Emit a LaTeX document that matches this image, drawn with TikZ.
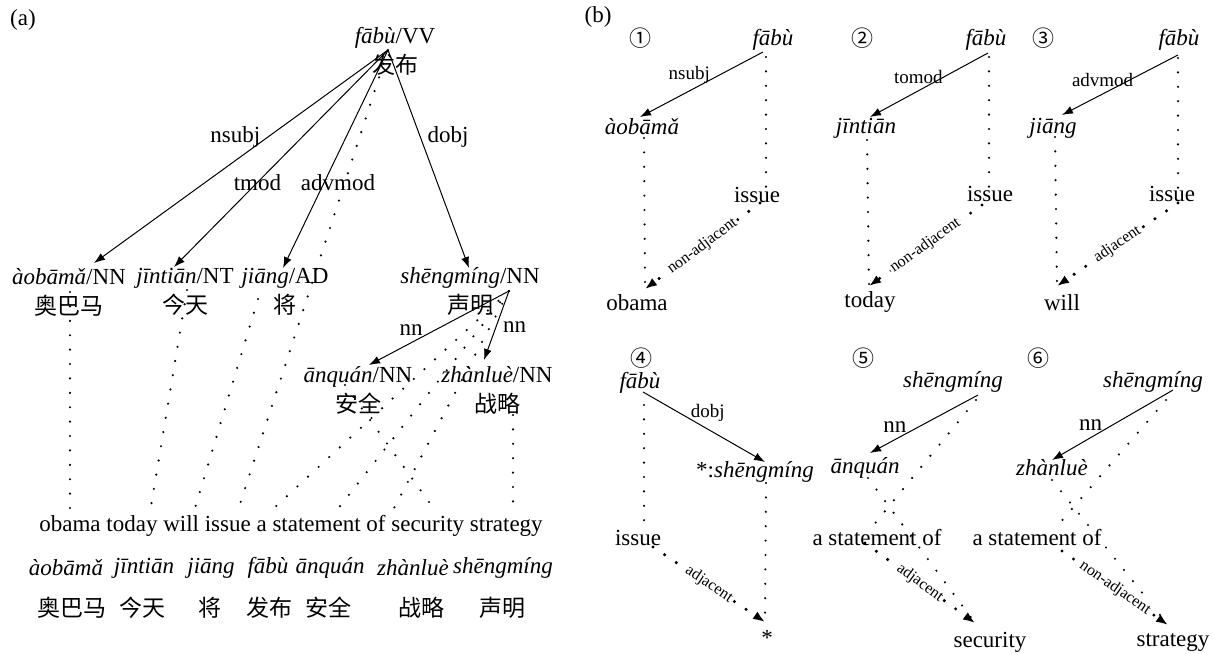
\documentclass[tikz,border=0pt]{standalone}
\usepackage{fontspec}
\setmainfont{Liberation Serif}
\newfontfamily\cjk{Noto Sans CJK SC}
\usetikzlibrary{arrows.meta}

\tikzset{
  dep/.style={line width=0.5pt, -{Latex[length=5.5pt,width=4pt]}},
  link/.style={line width=1.2pt, line cap=round, dash pattern=on 0pt off 7.2pt},
  linkarrow/.style={line width=1.7pt, line cap=round, dash pattern=on 0pt off 7pt,
    -{Latex[length=6pt,width=4.5pt]}},
  word/.style={align=center, inner sep=0pt},
  py/.style={font=\fontsize{11.5}{15}\selectfont\itshape},
  lab/.style={font=\fontsize{9.5}{11}\selectfont},
  tiny lab/.style={midway, sloped, fill=white, inner sep=0.8pt, font=\fontsize{8}{9}\selectfont},
  num/.style={font=\cjk\fontsize{11}{12}\selectfont}
}

\begin{document}
\begin{tikzpicture}[x=0.5pt, y=-0.5pt, font=\fontsize{11.5}{15}\selectfont]
    \useasboundingbox (0,0) rectangle (1214,653);

    % ---------- (a) the whole tree ----------
    \node (tagA) at (23,20) {(a)};
    \node[word] (fabuV) at (395,51) {{\itshape fābù}/VV\\{\cjk 发布}};
    \node[word] (aobamaN) at (69,292) {{\itshape àobāmǎ}/NN\\{\cjk 奥巴马}};
    \node[word] (jintianN) at (185,292) {{\itshape jīntiān}/NT\\{\cjk 今天}};
    \node[word] (jiangN) at (285,292) {{\itshape jiāng}/AD\\{\cjk 将}};
    \node[word] (shengN) at (470,292) {{\itshape shēngmíng}/NN\\{\cjk 声明}};
    \node[word] (anquanN) at (358,390) {{\itshape ānquán}/NN\\{\cjk 安全}};
    \node[word] (zhanlueN) at (497,390) {{\itshape zhànluè}/NN\\{\cjk 战略}};

    % arrow ends
    \coordinate (fabuV-r) at (388,50);
    \coordinate (aobamaN-t) at (94,263);
    \coordinate (jintianN-t) at (174,267);
    \coordinate (jiangN-t) at (283,268);
    \coordinate (shengN-t) at (469,268);
    \coordinate (shengN-r) at (509,291);
    \coordinate (anquanN-t) at (369,365);
    \coordinate (zhanlueN-t) at (484,360);

    % Draw the dependencies
    \draw[dep] (fabuV-r) -- (aobamaN-t) node[pos=0.41,left]{nsubj};
    \draw[dep] (fabuV-r) -- (jintianN-t) node[pos=0.61]{tmod};
    \draw[dep] (fabuV-r) -- (jiangN-t) node[pos=0.61,xshift=7pt]{advmod};
    \draw[dep] (fabuV-r) -- (shengN-t) node[pos=0.40,right]{dobj};
    \draw[dep] (shengN-r) -- (anquanN-t) node[pos=0.7,above]{nn};
    \draw[dep] (shengN-r) -- (zhanlueN-t) node[pos=0.52,right]{nn};

    % English sentence
    \node (sent) at (291,526) {obama today will issue a statement of security strategy};
    \coordinate (w-obama) at (70,509);
    \coordinate (w-today) at (151,506);
    \coordinate (w-will) at (195,508);
    \coordinate (w-issue) at (239,507);
    \coordinate (w-a) at (273,509);
    \coordinate (w-statement) at (337,510);
    \coordinate (w-of) at (393,510);
    \coordinate (w-security) at (434,509);
    \coordinate (w-strategy) at (513,509);
    \coordinate (aobamaN-b) at (70,292);
    \coordinate (jintianN-b) at (187,290);
    \coordinate (jiangN-b) at (258,299);
    \coordinate (anquanN-b) at (345,385);
    \coordinate (zhanlueN-b) at (513,415);

    % Draw the word alignment
    \draw[link] (aobamaN-b) -- (w-obama);
    \draw[link] (jintianN-b) -- (w-today);
    \draw[link] (jiangN-b) -- (w-will);
    \draw[link] (fabuV-r) -- (w-issue);
    \draw[link] (shengN-r) -- (w-a);
    \draw[link] (shengN-r) -- (w-statement);
    \draw[link] (shengN-r) -- (w-of);
    \draw[link] (anquanN-b) -- (w-security);
    \draw[link] (zhanlueN-b) -- (w-strategy);

    % pinyin and Chinese rows
    \node[py] (py1) at (66,568) {àobāmǎ};
    \node[py] (py2) at (144,568) {jīntiān};
    \node[py] (py3) at (211,568) {jiāng};
    \node[py] (py4) at (268,568) {fābù};
    \node[py] (py5) at (330,568) {ānquán};
    \node[py] (py6) at (413,568) {zhànluè};
    \node[py] (py7) at (503,568) {shēngmíng};
    \node (zh1) at (72,608) {\cjk 奥巴马};
    \node (zh2) at (142,608) {\cjk 今天};
    \node (zh3) at (210,608) {\cjk 将};
    \node (zh4) at (269,608) {\cjk 发布};
    \node (zh5) at (328,608) {\cjk 安全};
    \node (zh6) at (421,608) {\cjk 战略};
    \node (zh7) at (502,608) {\cjk 声明};

    % ---------- (b) the six cases ----------
    \node (tagB) at (598,17) {(b)};

    % case 1
    \node[num] (num1) at (640,38) {①};
    \node[py] (fabu1) at (773,40) {fābù};
    \node[py] (aobama1) at (642,127) {àobāmǎ};
    \node (issue1) at (757,195) {issue};
    \node (obama1) at (637,303) {obama};
    \coordinate (fabu1-r) at (763,52);
    \coordinate (aobama1-t) at (640,117);
    \coordinate (aobama1-b) at (644,138);
    \coordinate (obama1-t) at (645,289);
    \coordinate (fabu1-b) at (766,57);
    \coordinate (issue1-t) at (766,187);
    \coordinate (issue1-r) at (760,203);
    \draw[dep] (fabu1-r) -- (aobama1-t) node[lab,pos=0.6,above]{nsubj};
    \draw[link] (aobama1-b) -- (obama1-t);
    \draw[link] (fabu1-b) -- (issue1-t);
    \draw[linkarrow] (issue1-r) -- (obama1-t) node[tiny lab]{non-adjacent};

    % case 2
    \node[num] (num2) at (862,38) {②};
    \node[py] (fabu2) at (986,40) {fābù};
    \node[py] (jintian2) at (866,128) {jīntiān};
    \node (issue2) at (990,194) {issue};
    \node (today2) at (870,302) {today};
    \coordinate (fabu2-r) at (988,53);
    \coordinate (jintian2-t) at (870,117);
    \coordinate (jintian2-b) at (867,140);
    \coordinate (today2-t) at (869,286);
    \coordinate (fabu2-b) at (989,57);
    \coordinate (issue2-t) at (989,187);
    \coordinate (issue2-r) at (982,205);
    \draw[dep] (fabu2-r) -- (jintian2-t) node[lab,pos=0.59,above]{tomod};
    \draw[link] (jintian2-b) -- (today2-t);
    \draw[link] (fabu2-b) -- (issue2-t);
    \draw[linkarrow] (issue2-r) -- (today2-t) node[tiny lab]{non-adjacent};

    % case 3
    \node[num] (num3) at (1043,38) {③};
    \node[py] (fabu3) at (1179,40) {fābù};
    \node[py] (jiang3) at (1053,128) {jiāng};
    \node (issue3) at (1172,194) {issue};
    \node (will3) at (1062,303) {will};
    \coordinate (fabu3-r) at (1178,55);
    \coordinate (jiang3-t) at (1062,115);
    \coordinate (jiang3-b) at (1055,137);
    \coordinate (will3-t) at (1057,286);
    \coordinate (fabu3-b) at (1178,58);
    \coordinate (issue3-t) at (1178,190);
    \coordinate (issue3-r) at (1178,203);
    \draw[dep] (fabu3-r) -- (jiang3-t) node[lab,pos=0.65,above]{advmod};
    \draw[link] (jiang3-b) -- (will3-t);
    \draw[link] (fabu3-b) -- (issue3-t);
    \draw[linkarrow] (issue3-r) -- (will3-t) node[tiny lab]{adjacent};

    % case 4
    \node[num] (num4) at (641,358) {④};
    \node[py] (fabu4) at (640,383) {fābù};
    \node (sheng4) at (755,472) {*:{\itshape shēngmíng}};
    \node (issue4) at (638,538) {issue};
    \node (star4) at (767,638) {*};
    \coordinate (fabu4-r) at (643,392);
    \coordinate (sheng4-t) at (765,462);
    \coordinate (fabu4-b) at (644,405);
    \coordinate (issue4-t) at (644,523);
    \coordinate (sheng4-b) at (766,483);
    \coordinate (star4-t) at (765,622);
    \coordinate (issue4-r) at (653,547);
    \draw[dep] (fabu4-r) -- (sheng4-t) node[lab,pos=0.53,above]{dobj};
    \draw[link] (fabu4-b) -- (issue4-t);
    \draw[link] (sheng4-b) -- (star4-t);
    \draw[linkarrow] (issue4-r) -- (star4-t) node[tiny lab]{adjacent};

    % case 5
    \node[num] (num5) at (863,358) {⑤};
    \node[py] (sheng5) at (953,382) {shēngmíng};
    \node[py] (anquan5) at (865,468) {ānquán};
    \node (stmt5) at (877,538) {a statement of};
    \node (security5) at (990,642) {security};
    \coordinate (sheng5-r) at (978,395);
    \coordinate (anquan5-t) at (870,453);
    \coordinate (sheng5-b) at (976,400);
    \coordinate (anquan5-b) at (868,478);
    \coordinate (stmt5-t) at (872,527);
    \coordinate (stmt5-r) at (865,543);
    \coordinate (security5-t) at (975,623);
    \draw[dep] (sheng5-r) -- (anquan5-t) node[pos=0.77,above]{nn};
    \draw[link] (sheng5-b) -- (stmt5-t);
    \draw[link] (anquan5-b) -- (security5-t);
    \draw[linkarrow] (stmt5-r) -- (security5-t) node[tiny lab]{adjacent};

    % case 6
    \node[num] (num6) at (1038,358) {⑥};
    \node[py] (sheng6) at (1153,382) {shēngmíng};
    \node[py] (zhanlue6) at (1052,468) {zhànluè};
    \node (stmt6) at (1037,538) {a statement of};
    \node (strategy6) at (1173,642) {strategy};
    \coordinate (sheng6-r) at (1173,390);
    \coordinate (zhanlue6-t) at (1052,460);
    \coordinate (sheng6-b) at (1166,400);
    \coordinate (zhanlue6-b) at (1052,480);
    \coordinate (stmt6-t) at (1058,525);
    \coordinate (stmt6-r) at (1062,551);
    \coordinate (strategy6-t) at (1168,625);
    \draw[dep] (sheng6-r) -- (zhanlue6-t) node[pos=0.68,above]{nn};
    \draw[link] (sheng6-b) -- (stmt6-t);
    \draw[link] (zhanlue6-b) -- (strategy6-t);
    \draw[linkarrow] (stmt6-r) -- (strategy6-t) node[tiny lab]{non-adjacent};
\end{tikzpicture}
\end{document}
